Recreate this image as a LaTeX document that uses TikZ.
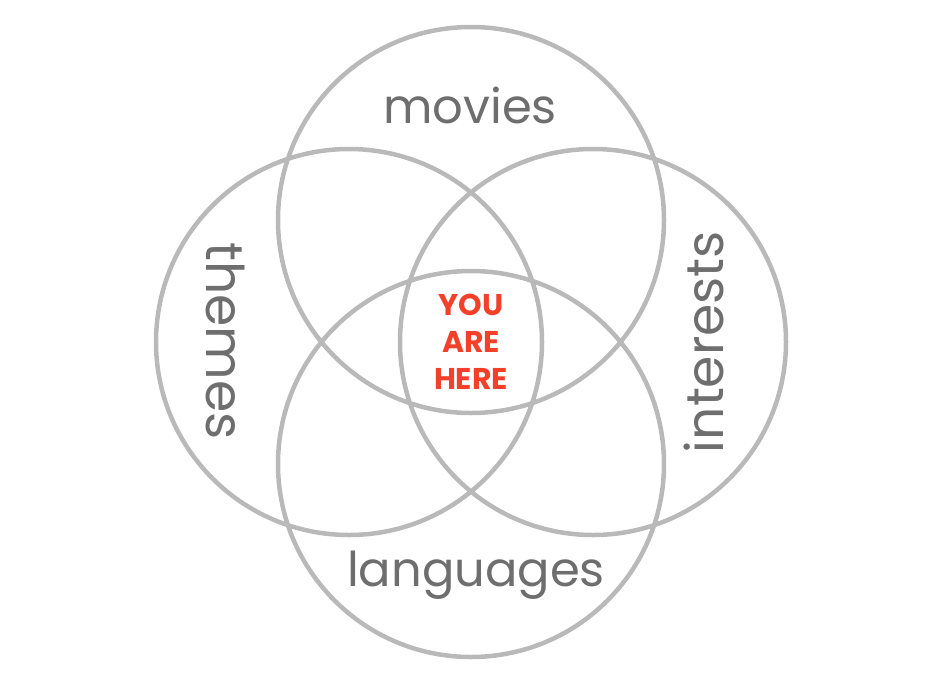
\documentclass[tikz,border=0pt]{standalone}
\usepackage{fontspec}
\setmainfont{Poppins}
\definecolor{vnxam}{HTML}{808080}
\definecolor{vnchu}{HTML}{6E6E6E}
\definecolor{vndo}{HTML}{F2402A}
\def\mauvien{vnxam}
\def\mauchu{vnchu}
\def\maunhan{vndo}
\usepackage{tikz}
\usetikzlibrary{calc}

\begin{document}
\begin{tikzpicture}[x=1pt,y=-1pt,declare function ={r=193;d=122;},
	nhan/.style={font=\fontsize{48}{48}\selectfont,text=\mauchu,inner sep=0pt}]
		\useasboundingbox (0,0) rectangle (942,686);
		\path (471,342) coordinate (O);
		\path (O) ++(0,-d) coordinate (T)
		(O) ++(0,d) coordinate (B)
		(O) ++(-d,0) coordinate (L)
		(O) ++(d,0) coordinate (R);
		\draw[\mauvien,line width=4.5pt,draw opacity=.55] 
		(T) circle (r) 
		(B) circle (r) 
		(L) circle (r)
		(R) circle (r)
		;
		\path (470,105) node[nhan] (movies) {movies}
		(476,575) node[nhan] (languages) {languages}
		(226,341) node[nhan,rotate=-90,font=\fontsize{52}{52}\selectfont] (themes) {themes}
		(704,342) node[nhan,rotate=90,font=\fontsize{52}{52}\selectfont] (interests) {interests};
		\path (O) node [align=center,inner sep =0pt,font=\fontsize{30}{37}\selectfont\bfseries,text=\maunhan] (here) {YOU\\ARE\\HERE};
		
	\end{tikzpicture}
\end{document}
